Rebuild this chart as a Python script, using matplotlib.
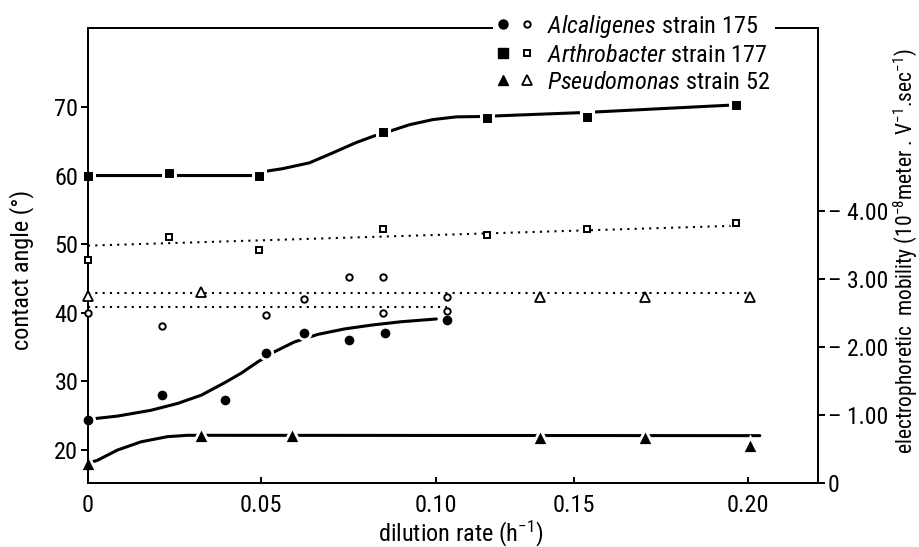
import numpy as np
import matplotlib
matplotlib.use('Agg')
import matplotlib.pyplot as plt
from matplotlib.lines import Line2D
from matplotlib.legend_handler import HandlerTuple

plt.rcParams['font.family'] = ['Roboto Condensed', 'DejaVu Sans']
plt.rcParams['font.stretch'] = 'condensed'
plt.rcParams['mathtext.fontset'] = 'custom'
plt.rcParams['mathtext.rm'] = 'Roboto Condensed'
plt.rcParams['mathtext.it'] = 'Roboto Condensed:italic'

# x axis of the original figure is not evenly spaced
x_ticks = [0, 0.05, 0.10, 0.15, 0.20]
x_tick_labels = ['0', '0.05', '0.10', '0.15', '0.20']
x_tick_pos = [0, 173, 347, 485, 659]

# Alcaligenes strain 175
alc_x = [0, 0.0214, 0.0396, 0.0514, 0.0624, 0.0751, 0.0855, 0.1042]
alc_angle = [24.4, 28.0, 27.3, 34.2, 37.0, 36.0, 37.1, 38.95]
alc_mob_x = [0, 0.0214, 0.0514, 0.0624, 0.0751, 0.0850, 0.0850, 0.1042, 0.1042]
alc_mob = [2.50, 2.31, 2.47, 2.70, 3.03, 3.03, 2.50, 2.74, 2.53]
alc_curve_x = [0, 0.0022, 0.0085, 0.0182, 0.0259, 0.0327, 0.0394, 0.0442, 0.0490,
               0.0537, 0.0595, 0.0662, 0.0739, 0.0815, 0.0902, 0.1003]
alc_curve_y = [24.45, 24.6, 24.95, 25.8, 26.8, 28.0, 29.8, 31.2, 32.85,
               34.3, 35.75, 36.85, 37.65, 38.2, 38.7, 39.1]
alc_fit_x = [0, 0.104]
alc_fit_y = [2.59, 2.59]

# Arthrobacter strain 177
art_x = [0, 0.0234, 0.0494, 0.0848, 0.1188, 0.1537, 0.1966]
art_angle = [59.9, 60.3, 60.0, 66.4, 68.4, 68.6, 70.3]
art_mob = [3.28, 3.62, 3.43, 3.74, 3.64, 3.74, 3.82]
art_curve_x = [0, 0.048, 0.0509, 0.0561, 0.0638, 0.0705, 0.0772, 0.0820, 0.0868,
               0.0925, 0.0992, 0.1075, 0.1159, 0.1537, 0.1966]
art_curve_y = [60.0, 60.0, 60.6, 61.0, 61.85, 63.3, 64.8, 65.7, 66.45,
               67.4, 68.15, 68.55, 68.6, 69.2, 70.3]
art_fit_x = [0, 0.195]
art_fit_y = [3.49, 3.78]

# Pseudomonas strain 52
pse_x = [0, 0.0327, 0.0589, 0.1377, 0.1704, 0.2006]
pse_angle = [18.1, 22.2, 22.2, 21.9, 21.9, 20.7]
pse_mob_x = [0, 0.0327, 0.1377, 0.1704, 0.2006]
pse_mob = [2.75, 2.81, 2.74, 2.74, 2.74]
pse_curve_x = [0, 0.0027, 0.0085, 0.0153, 0.0229, 0.0287, 0.0327, 0.2034]
pse_curve_y = [18.1, 18.5, 20.0, 21.2, 21.95, 22.15, 22.15, 22.1]
pse_fit_x = [0, 0.2006]
pse_fit_y = [2.79, 2.79]

mob_ticks = [0, 1, 2, 3, 4]
mob_tick_labels = ['0', '\u2013 1.00', '\u2013 2.00', '\u2013 3.00', '\u2013 4.00']

# piecewise scale for the uneven x axis
sv = [-0.05] + x_ticks + [0.25]
sp = [-173] + x_tick_pos + [833]
def fwd(x):
    return np.interp(x, sv, sp)
def inv(p):
    return np.interp(p, sp, sv)

fig = plt.figure(figsize=(9.19, 5.47), dpi=100)
ax = fig.add_axes([88/919, 1 - 483/547, 730/919, 455/547])
ax.set_xscale('function', functions=(fwd, inv))
ax2 = ax.twinx()

lw_spine = 1.4
for a in (ax, ax2):
    for s in a.spines.values():
        s.set_linewidth(lw_spine)

dots = (0, (1, 2.5))
fs = 17.5

# contact angle: filled symbols, solid curves
ax.plot(art_curve_x, art_curve_y, color='k', lw=2.2, solid_capstyle='round', clip_on=False)
ax.plot(alc_curve_x, alc_curve_y, color='k', lw=2.2, solid_capstyle='round', clip_on=False)
ax.plot(pse_curve_x, pse_curve_y, color='k', lw=2.2, solid_capstyle='round', clip_on=False)
ax.plot(art_x, art_angle, ls='', marker='s', ms=9.2, mfc='k', mec='white', mew=2.2, clip_on=False, zorder=3)
ax.plot(alc_x, alc_angle, ls='', marker='o', ms=9.0, mfc='k', mec='white', mew=2.0, clip_on=False, zorder=3)
ax.plot(pse_x, pse_angle, ls='', marker='^', ms=11.0, mfc='k', mec='white', mew=2.0, clip_on=False, zorder=3)

# mobility: open symbols, dotted fits
ax2.plot(alc_fit_x, alc_fit_y, color='k', lw=1.5, ls=dots, clip_on=False)
ax2.plot(art_fit_x, art_fit_y, color='k', lw=1.5, ls=dots, clip_on=False)
ax2.plot(pse_fit_x, pse_fit_y, color='k', lw=1.5, ls=dots, clip_on=False)
ax2.plot(alc_mob_x, alc_mob, ls='', marker='o', ms=4.6, mfc='white', mec='k', mew=1.4, clip_on=False, zorder=3)
ax2.plot(art_x, art_mob, ls='', marker='s', ms=4.8, mfc='white', mec='k', mew=1.4, clip_on=False, zorder=3)
ax2.plot(pse_mob_x, pse_mob, ls='', marker='^', ms=6.5, mfc='white', mec='k', mew=1.3, clip_on=False, zorder=3)

ax.set_xlim(0, 0.2201)
ax.set_ylim(15.2, 81.5)
ax2.set_ylim(0, 6.69)

ax.set_xticks(x_ticks)
ax.set_xticklabels(x_tick_labels)
ax.set_yticks([20, 30, 40, 50, 60, 70])
ax.xaxis.set_minor_locator(matplotlib.ticker.NullLocator())
ax.tick_params(axis='x', direction='in', length=4.5, width=lw_spine, pad=8, labelsize=fs)
ax.tick_params(axis='y', direction='out', length=5, width=lw_spine, pad=2, labelsize=fs)
ax2.set_yticks(mob_ticks)
ax2.set_yticklabels(mob_tick_labels)
ax2.tick_params(axis='y', direction='out', length=5, width=lw_spine, pad=2, labelsize=17)

ax.set_xlabel('dilution rate (h$^{-1}$)', fontsize=fs)
ax.xaxis.set_label_coords(0.511, -0.078)
ax.set_ylabel('contact angle (\u00b0)', fontsize=fs)
ax.yaxis.set_label_coords(-0.074, 0.468)
ax2.set_ylabel('electrophoretic  mobility (10$^{-8}$meter . V$^{-1}$.sec$^{-1}$)', fontsize=15.5)
ax2.yaxis.set_label_coords(1.1, 0.51)

handles = [
    (Line2D([], [], ls='', marker='o', ms=6.5, color='k'),
     Line2D([], [], ls='', marker='o', ms=4.6, mfc='white', mec='k', mew=1.4)),
    (Line2D([], [], ls='', marker='s', ms=6.5, color='k'),
     Line2D([], [], ls='', marker='s', ms=4.8, mfc='white', mec='k', mew=1.4)),
    (Line2D([], [], ls='', marker='^', ms=7.5, color='k'),
     Line2D([], [], ls='', marker='^', ms=6.5, mfc='white', mec='k', mew=1.3)),
]
labels = [r'$\mathit{Alcaligenes}$ strain 175',
          r'$\mathit{Arthrobacter}$ strain 177',
          r'$\mathit{Pseudomonas}$ strain 52']
leg = ax2.legend(handles, labels, handler_map={tuple: HandlerTuple(ndivide=None, pad=0.5)},
                 loc='upper left', bbox_to_anchor=(0.555, 1.044), frameon=True,
                 facecolor='white', edgecolor='none', framealpha=1, fancybox=False,
                 borderpad=0.2, labelspacing=0.16, handlelength=1.4, handletextpad=0.6,
                 fontsize=17.5, borderaxespad=0)

fig.savefig('out.png', dpi=100)
